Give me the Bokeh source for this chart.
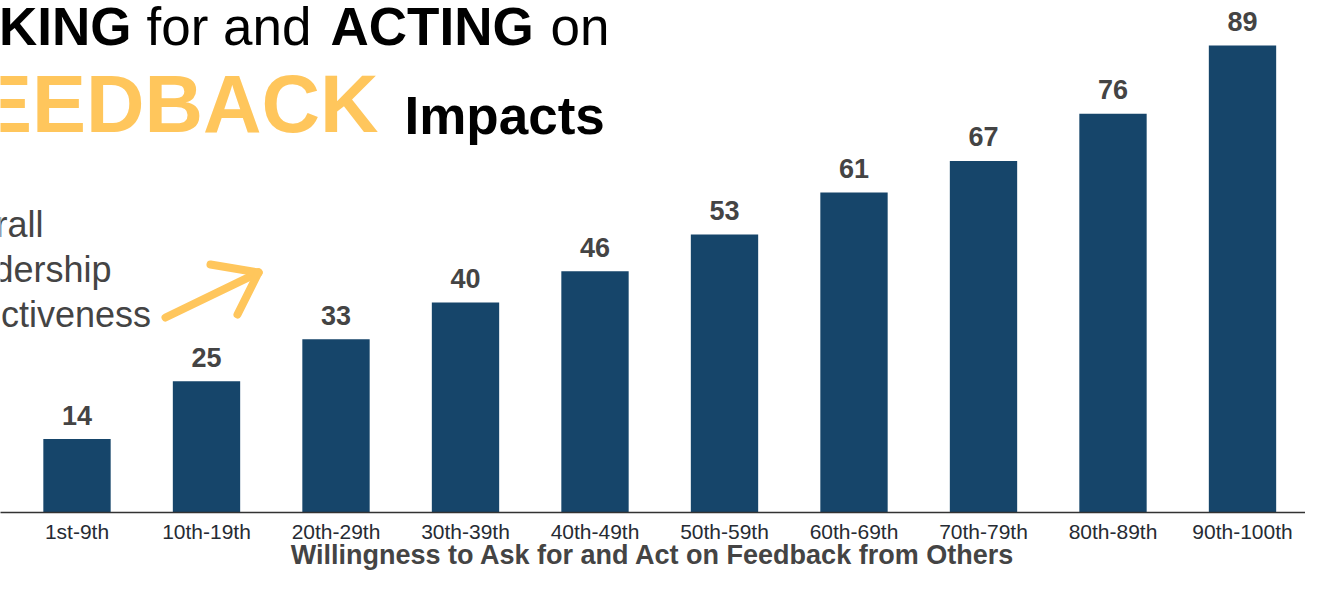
from bokeh.plotting import figure
from bokeh.models import ColumnDataSource, Range1d, FixedTicker, Label, Arrow
from bokeh.core.properties import value
from bokeh.embed import file_html
from bokeh.resources import INLINE

# ---- data ----
categories = ["1st-9th", "10th-19th", "20th-29th", "30th-39th", "40th-49th",
              "50th-59th", "60th-69th", "70th-79th", "80th-89th", "90th-100th"]
values = [14, 25, 33, 40, 46, 53, 61, 67, 76, 89]
x_label = "Willingness to Ask for and Act on Feedback from Others"

FONT = "Liberation Sans"
BAR = "#16456A"
ORANGE = "#FFC65C"
GRAY = "#444444"

W, H = 1305, 574
AXIS_Y = 512  # canvas pixel row of the baseline
# canvas-pixel -> data helpers (for decorative annotation placement only)
X0, XS = 76.5, 129.5
YS = 5.247
def dx(px):
    return (px - X0) / XS
def dy(py):
    return (AXIS_Y - py) / YS

p = figure(width=W, height=H, output_backend="svg", toolbar_location=None,
           x_range=Range1d(dx(0), dx(W)), y_range=Range1d(0, dy(0)),
           min_border_left=0, min_border_right=0, min_border_top=0,
           min_border_bottom=H - AXIS_Y)
p.outline_line_color = None
p.grid.visible = False
p.yaxis.visible = False
p.background_fill_color = "white"
p.border_fill_color = "white"

xs = list(range(len(categories)))
src = ColumnDataSource(dict(x=xs, top=values, lab=[str(v) for v in values]))
p.vbar(x="x", top="top", bottom=0, width=0.52, source=src,
       fill_color=BAR, line_color=None)
p.text(x="x", y="top", text="lab", source=src, text_align="center",
       text_baseline="alphabetic", y_offset=-24,
       text_font=value(FONT), text_font_size="27px", text_font_style="bold",
       text_color=GRAY)

ax = p.xaxis[0]
ax.ticker = FixedTicker(ticks=xs)
ax.major_label_overrides = {i: c for i, c in zip(xs, categories)}
ax.major_tick_line_color = None
ax.minor_tick_line_color = None
ax.major_tick_out = 0
ax.minor_tick_out = 0
ax.axis_line_color = "#333333"
ax.axis_line_width = 1.5
ax.major_label_text_font = FONT
ax.major_label_text_font_size = "21px"
ax.major_label_text_color = "#262b33"
ax.major_label_standoff = 7
ax.axis_label = x_label
ax.axis_label_text_font = FONT
ax.axis_label_text_font_size = "27px"
ax.axis_label_text_font_style = "bold"
ax.axis_label_text_color = GRAY
ax.axis_label_standoff = -6

# ---- title ----
def lab(text, px, py, size, style="normal", color="black", align="left"):
    # py is the wanted alphabetic baseline; renderer sits text ~0.37em lower
    p.add_layout(Label(x=dx(px), y=dy(py - 0.37 * size), text=text,
                       text_font=FONT, text_font_size=f"{size}px",
                       text_font_style=style, text_color=color,
                       text_align=align, text_baseline="alphabetic"))

lab("ASKING", 131, 46, 53, "bold", align="right")
lab("for and", 146, 46, 53)
lab("ACTING", 330, 46, 53, "bold")
lab("on", 550, 46, 53)
lab("FEEDBACK", 378, 133, 81, "bold", color=ORANGE, align="right")
lab("Impacts", 404, 135, 53, "bold")

# side annotation
lab("Overall", -71, 237, 36, color=GRAY)
lab("Leadership", -67, 282, 36, color=GRAY)
lab("Effectiveness", -63, 327, 36, color=GRAY)

for (a, b), (c, d) in [((165, 317), (258, 272)), ((210, 264), (258, 272)),
                       ((237, 314), (258, 272))]:
    p.add_layout(Arrow(x_start=dx(a), y_start=dy(b), x_end=dx(c), y_end=dy(d),
                       end=None, line_color=ORANGE, line_width=8,
                       line_cap="round", line_join="round"))

open("out.html", "w").write(file_html(p, INLINE))
